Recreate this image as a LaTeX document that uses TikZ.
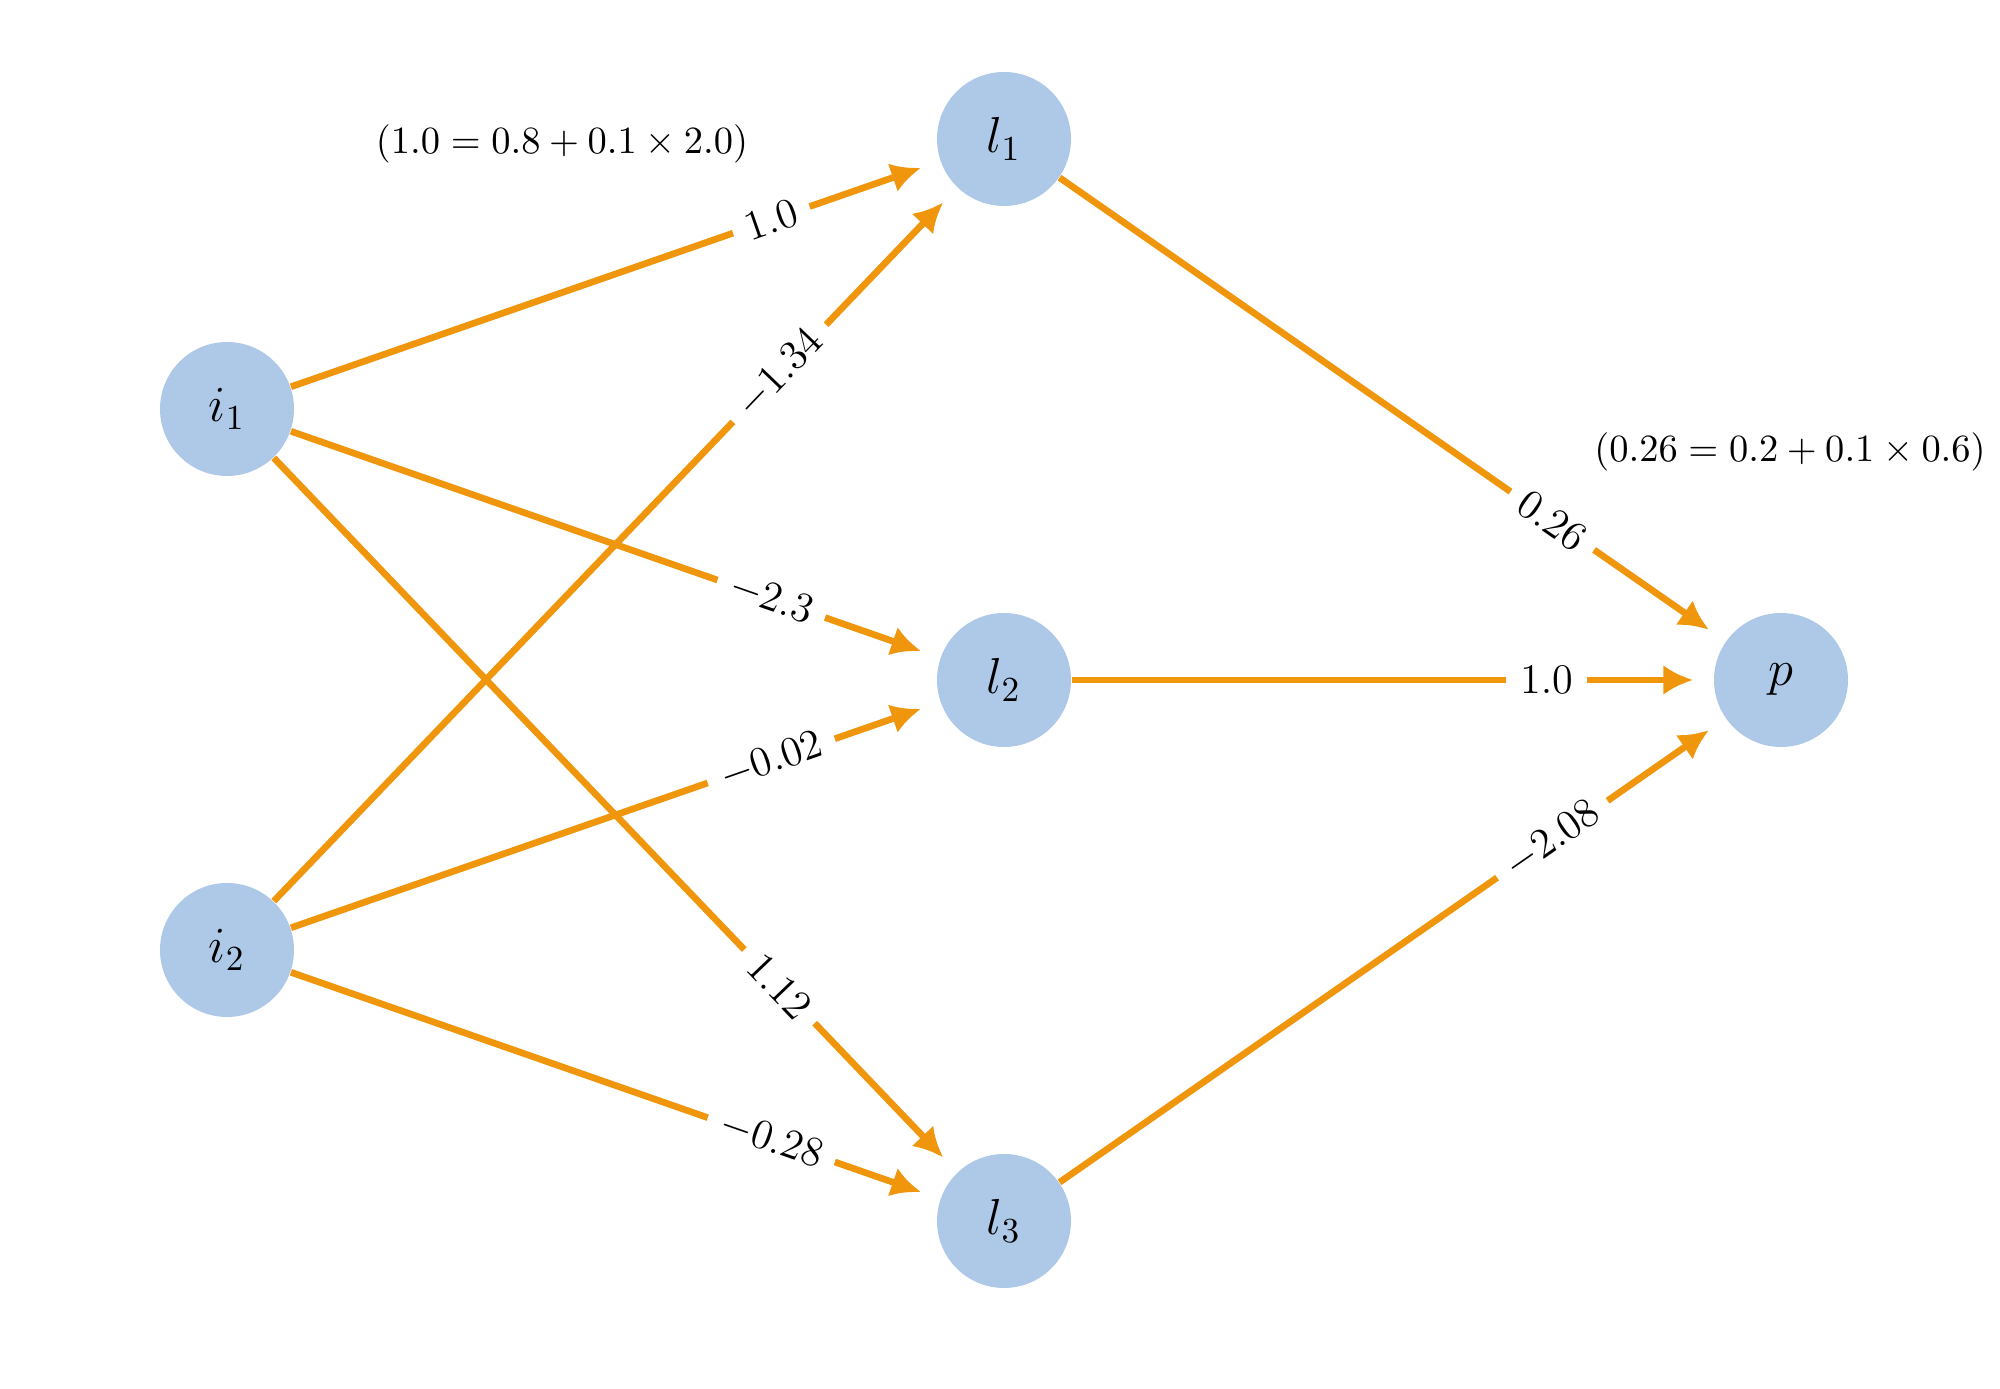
\documentclass[tikz,border=0pt]{standalone}
\usepackage{tikz}
\usetikzlibrary{arrows.meta}
\definecolor{neuron}{HTML}{AEC9E8}
\definecolor{weight}{HTML}{F0960C}

\begin{document}
\begin{tikzpicture}[>=Latex,
  unit/.style={circle,fill=neuron,minimum size=1.34cm,inner sep=0pt,font=\fontsize{14}{16}\selectfont},
  edge/.style={draw=weight,line width=1.9pt,shorten >=0.2cm,arrows={-Latex[length=8.5pt,width=8.5pt]}},
  wlabel/.style={fill=white,sloped,pos=0.74,inner sep=4pt,font=\fontsize{12.4}{14}\selectfont},
  calc note/.style={font=\fontsize{11}{13}\selectfont}]
\useasboundingbox (0,0) rectangle (20,13.89);
% input, hidden and output units
\node[unit] (i1) at (2.27,9.80) {$i_1$};
\node[unit] (i2) at (2.27,4.39) {$i_2$};
\node[unit] (l1) at (10.04,12.50) {$l_1$};
\node[unit] (l2) at (10.04,7.09) {$l_2$};
\node[unit] (l3) at (10.04,1.68) {$l_3$};
\node[unit] (p) at (17.81,7.09) {$p$};
% weights
\draw[edge] (i1) -- node[wlabel] {$1.0$} (l1);
\draw[edge] (i1) -- node[wlabel] {$-2.3$} (l2);
\draw[edge] (i1) -- node[wlabel] {$1.12$} (l3);
\draw[edge] (i2) -- node[wlabel] {$-1.34$} (l1);
\draw[edge] (i2) -- node[wlabel] {$-0.02$} (l2);
\draw[edge] (i2) -- node[wlabel] {$-0.28$} (l3);
\draw[edge] (l1) -- node[wlabel] {$0.26$} (p);
\draw[edge] (l2) -- node[wlabel] {$1.0$} (p);
\draw[edge] (l3) -- node[wlabel] {$-2.08$} (p);
% updates
\node[calc note] (n1) at (5.62,12.45) {$(1.0 = 0.8 + 0.1 \times 2.0)$};
\node[calc note] (n2) at (17.90,9.37) {$(0.26 = 0.2 + 0.1 \times 0.6)$};
\end{tikzpicture}
\end{document}
